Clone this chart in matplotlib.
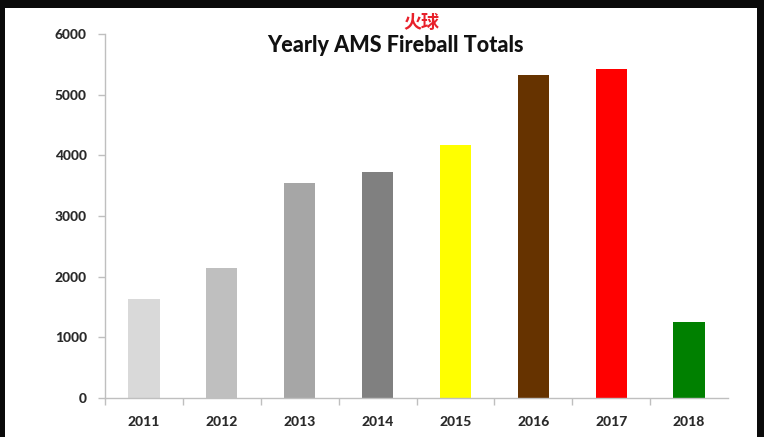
import numpy as np
import matplotlib
matplotlib.use("Agg")
import matplotlib.pyplot as plt
from matplotlib.patches import Rectangle

plt.rcParams['font.family'] = ['Lato', 'Noto Sans CJK SC', 'DejaVu Sans']

years = ["2011", "2012", "2013", "2014", "2015", "2016", "2017", "2018"]
totals = [1627, 2143, 3539, 3725, 4170, 5324, 5418, 1253]
bar_colors = ['#d9d9d9', '#bfbfbf', '#a6a6a6', '#808080',
              '#ffff00', '#663300', '#ff0000', '#008000']
y_ticks = [0, 1000, 2000, 3000, 4000, 5000, 6000]

fig = plt.figure(figsize=(7.64, 4.37), dpi=100)
fig.patch.set_facecolor('#0a0a0a')
# white slide panel inside the dark frame
fig.patches.append(Rectangle((5 / 764, 0), 752 / 764, 1 - 8 / 437,
                             transform=fig.transFigure, facecolor='white',
                             edgecolor='none', zorder=-10))

ax = fig.add_axes([105 / 764, 39 / 437, 623 / 764, 364 / 437])
ax.set_facecolor('none')

ind = np.arange(len(years))
ax.bar(ind, totals, 0.4, color=bar_colors, zorder=2)

ax.set_xlim(-0.5, len(years) - 0.5)
ax.set_ylim(0, 6000)
ax.set_yticks(y_ticks)
ax.set_yticklabels([str(t) for t in y_ticks])
ax.set_xticks(ind)
ax.set_xticklabels(years)
ax.set_xticks(np.arange(-0.5, len(years) - 1, 1), minor=True)

for s in ['top', 'right']:
    ax.spines[s].set_visible(False)
for s in ['left', 'bottom']:
    ax.spines[s].set_color('#bfbfbf')
    ax.spines[s].set_linewidth(1)

ax.tick_params(axis='y', direction='out', length=5, width=1, color='#bfbfbf',
               pad=8, labelsize=10, labelcolor='#2a2a2a')
ax.tick_params(axis='x', which='major', length=0, pad=13, labelsize=10,
               labelcolor='#2a2a2a')
ax.tick_params(axis='x', which='minor', direction='out', length=5, width=1,
               color='#bfbfbf')
for lab in ax.get_xticklabels() + ax.get_yticklabels():
    lab.set_fontweight('black')

fig.text(395 / 764, 1 - 45 / 437, "Yearly AMS Fireball Totals", ha='center',
         va='center', fontsize=15.5, fontweight='black', color='#111111')
fig.text(421 / 764, 1 - 22 / 437, "火球", ha='center', va='center',
         fontsize=13, fontweight='bold', color='#e8202a',
         family=['Noto Sans CJK SC', 'DejaVu Sans'])

fig.savefig("out.png", dpi=100, facecolor=fig.get_facecolor())
